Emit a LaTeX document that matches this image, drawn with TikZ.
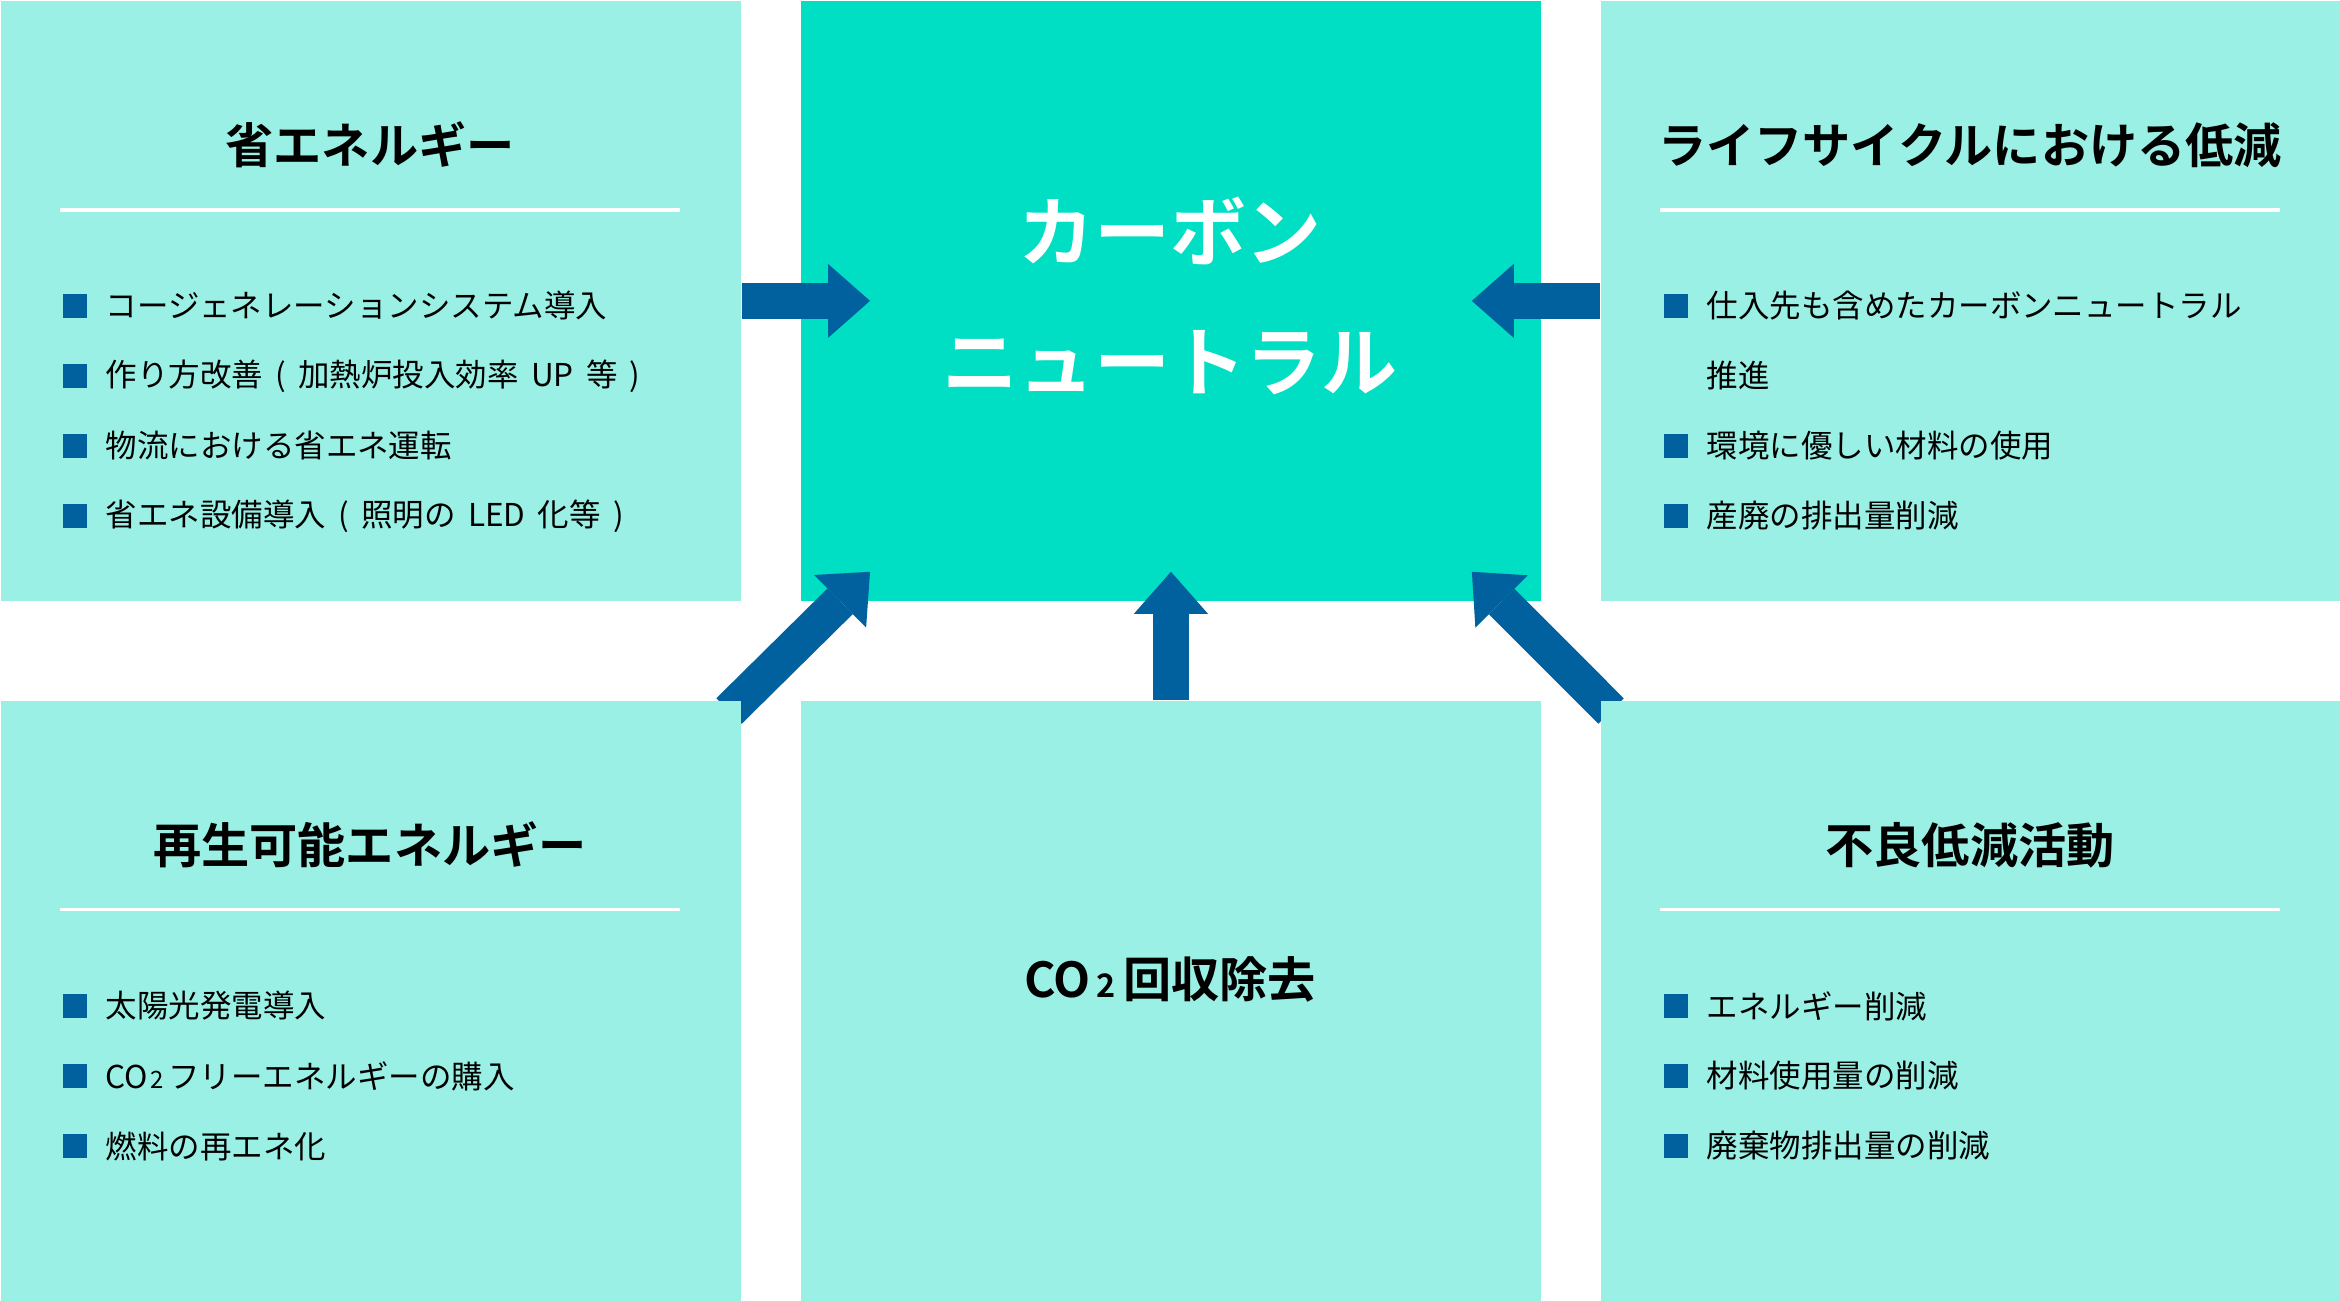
\documentclass[tikz,border=0pt]{standalone}
\usepackage{fontspec}
\setmainfont{Noto Sans CJK JP}[BoldFont={Noto Sans CJK JP Bold}]
\newfontfamily\entryfont{Noto Sans CJK JP}[WordSpace=1.75]
\usetikzlibrary{arrows.meta}

\definecolor{paleaqua}{HTML}{9AF0E4}
\definecolor{mintgreen}{HTML}{00DEC4}
\definecolor{deepblue}{HTML}{00619E}

\tikzset{
  panel/.style={fill=paleaqua, minimum width=7.4cm, minimum height=6cm, inner sep=0pt, anchor=north west},
  hubpanel/.style={panel, fill=mintgreen},
  heading/.style={font=\fontsize{13.7}{16}\selectfont\bfseries},
  entry/.style={anchor=west, inner sep=0pt, font=\entryfont\fontsize{8.95}{10}\selectfont},
  bullet/.style={fill=deepblue, minimum size=0.24cm, inner sep=0pt},
  divider/.style={white, line width=0.03cm},
  bigarrow/.style={deepblue, line width=0.36cm,
    -{Triangle[length=0.42cm, width=0.74cm, line width=0pt]}},
}

\begin{document}
\begin{tikzpicture}[x=0.01cm, y=-0.01cm]
  \useasboundingbox (0,0) rectangle (2340,1300);

  % top row
  \node[panel] (save) at (0,0) {};
  \node[hubpanel] (hub) at (800,0) {};
  \node[panel] (life) at (1600,0) {};
  \node[panel] (capture) at (800,700) {};

  % arrows into the hub
  \coordinate (renewtail) at (729,711);
  \coordinate (defecttail) at (1611,711);
  \draw[bigarrow] (save.east) -- ([xshift=0.7cm]hub.west);
  \draw[bigarrow] (life.west) -- ([xshift=-0.7cm]hub.east);
  \draw[bigarrow] (capture.north) -- ([yshift=0.3cm]hub.south);
  \draw[bigarrow] (renewtail) -- ([shift={(70,-30)}]hub.south west);
  \draw[bigarrow] (defecttail) -- ([shift={(-70,-30)}]hub.south east);

  % bottom row
  \node[panel] (renew) at (0,700) {};
  \node[panel] (defect) at (1600,700) {};

  \node[text=white, align=center, font=\fontsize{21.6}{37}\selectfont\bfseries] (goal) at (1170,296)
    {カーボン\\ニュートラル};

  % 省エネルギー
  \node[heading] (saveh) at (370,145) {省エネルギー};
  \draw[divider] (60,210) -- (680,210);
  \foreach \txt [count=\i] in {コージェネレーションシステム導入, {作り方改善 ( 加熱炉投入効率 UP 等 )},
      物流における省エネ運転, {省エネ設備導入 ( 照明の LED 化等 )}} {
    \node[bullet] (saveb\i) at (75,{236+70*\i}) {};
    \node[entry] (savet\i) at (105,{236+70*\i}) {\txt};
  }

  % ライフサイクル
  \node[heading] (lifeh) at (1970,145) {ライフサイクルにおける低減};
  \draw[divider] (1660,210) -- (2280,210);
  \node[bullet] (lifeb1) at (1676,306) {};
  \node[entry] (lifet1) at (1706,306) {仕入先も含めたカーボンニュートラル};
  \node[entry] (lifet1b) at (1706,376) {推進};
  \node[bullet] (lifeb2) at (1676,446) {};
  \node[entry] (lifet2) at (1706,446) {環境に優しい材料の使用};
  \node[bullet] (lifeb3) at (1676,516) {};
  \node[entry] (lifet3) at (1706,516) {産廃の排出量削減};

  % 再生可能エネルギー
  \node[heading] (renewh) at (370,845) {再生可能エネルギー};
  \draw[divider] (60,909) -- (680,909);
  \foreach \txt [count=\i] in {太陽光発電導入,
      {CO\kern0.02cm{\fontsize{6.8}{8}\selectfont 2}\kern0.05cmフリーエネルギーの購入},
      燃料の再エネ化} {
    \node[bullet] (renewb\i) at (75,{936+70*\i}) {};
    \node[entry] (renewt\i) at (105,{936+70*\i}) {\txt};
  }

  % CO2回収除去
  \node[heading] (captureh) at (1170,979)
    {CO\kern0.05cm{\fontsize{9.2}{10}\selectfont 2}\kern0.08cm回収除去};

  % 不良低減活動
  \node[heading] (defecth) at (1970,845) {不良低減活動};
  \draw[divider] (1660,909) -- (2280,909);
  \foreach \txt [count=\i] in {エネルギー削減, 材料使用量の削減, 廃棄物排出量の削減} {
    \node[bullet] (defectb\i) at (1676,{936+70*\i}) {};
    \node[entry] (defectt\i) at (1706,{936+70*\i}) {\txt};
  }
\end{tikzpicture}
\end{document}
